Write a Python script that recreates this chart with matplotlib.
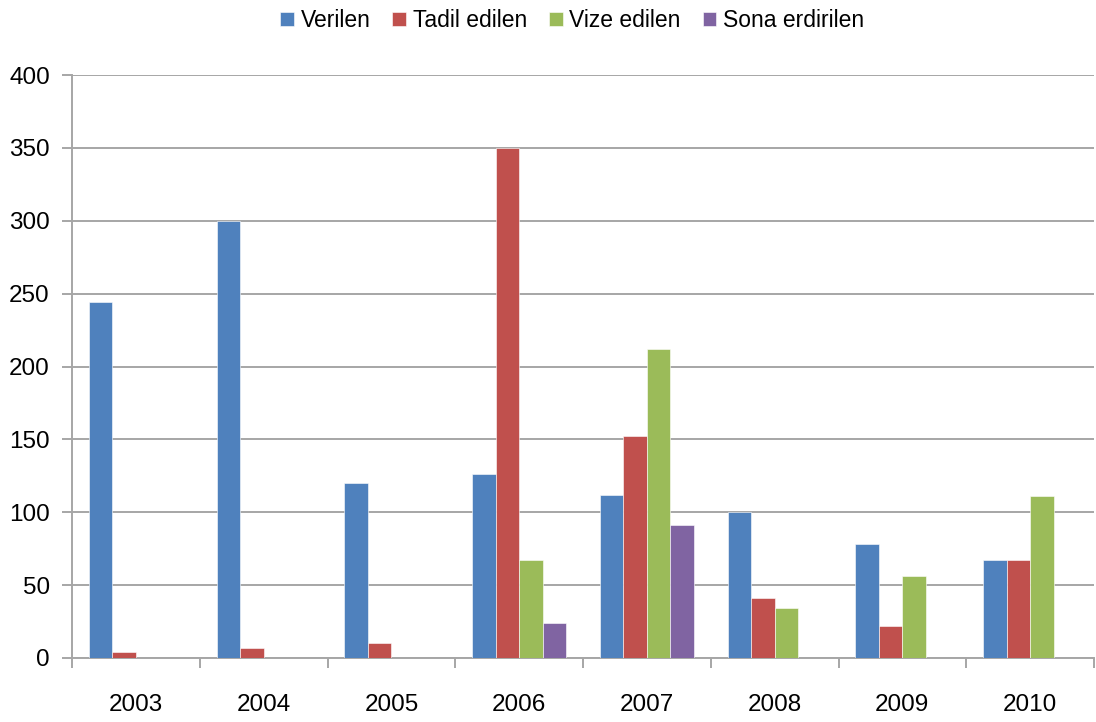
import matplotlib

matplotlib.use("Agg")
import matplotlib.pyplot as plt
import numpy as np
from matplotlib import font_manager

years = ["2003", "2004", "2005", "2006", "2007", "2008", "2009", "2010"]
series_names = ["Verilen", "Tadil edilen", "Vize edilen", "Sona erdirilen"]
verilen = [244, 300, 120, 126, 112, 100, 78, 67]
tadil_edilen = [4, 7, 10, 350, 152, 41, 22, 67]
vize_edilen = [0, 0, 0, 67, 212, 34, 56, 111]
sona_erdirilen = [0, 0, 0, 24, 91, 0, 0, 0]
colors = ["#4F81BD", "#C0504D", "#9BBB59", "#8064A2"]

names = {f.name for f in font_manager.fontManager.ttflist}
family = ["Liberation Sans Narrow", "DejaVu Sans"] if "Liberation Sans Narrow" in names \
    else ["Liberation Sans", "DejaVu Sans"]
plt.rcParams["font.family"] = family

fig = plt.figure(figsize=(10.96, 7.22), dpi=100)
ax = fig.add_axes([72 / 1096, 1 - 658 / 722, 1022 / 1096, 583 / 722])

x = np.arange(len(years))
width = 0.184
data = [verilen, tadil_edilen, vize_edilen, sona_erdirilen]
for i, (vals, name, c) in enumerate(zip(data, series_names, colors)):
    ax.bar(x + (i - 1.5) * width, vals, width, color=c, label=name,
           edgecolor="white", linewidth=0.4, zorder=3)

ax.set_xlim(-0.5, len(years) - 0.5)
ax.set_ylim(0, 400)
ax.set_yticks(range(0, 401, 50))
ax.yaxis.grid(True, color="#a6a6a6", lw=1.4, zorder=0)
ax.set_axisbelow(True)

ax.set_xticks(x)
ax.set_xticklabels(years, fontsize=17.5)
ax.set_xticks(np.arange(-0.5, len(years)), minor=True)
ax.tick_params(axis="x", which="major", length=0, pad=26)
ax.tick_params(axis="x", which="minor", length=7, color="#a6a6a6", width=1.4)
ax.tick_params(axis="y", length=7, color="#a6a6a6", width=1.4, labelsize=17.5, pad=9)

for side in ("top", "right"):
    ax.spines[side].set_visible(False)
for side in ("left", "bottom"):
    ax.spines[side].set_color("#a6a6a6")
    ax.spines[side].set_linewidth(1.4)

fig.legend(loc="upper center", bbox_to_anchor=(0.522, 1.016), ncol=4, frameon=False,
           fontsize=16.5, handlelength=0.6, handleheight=0.6, handletextpad=0.3,
           columnspacing=0.95)

fig.savefig("out.png", dpi=100)
